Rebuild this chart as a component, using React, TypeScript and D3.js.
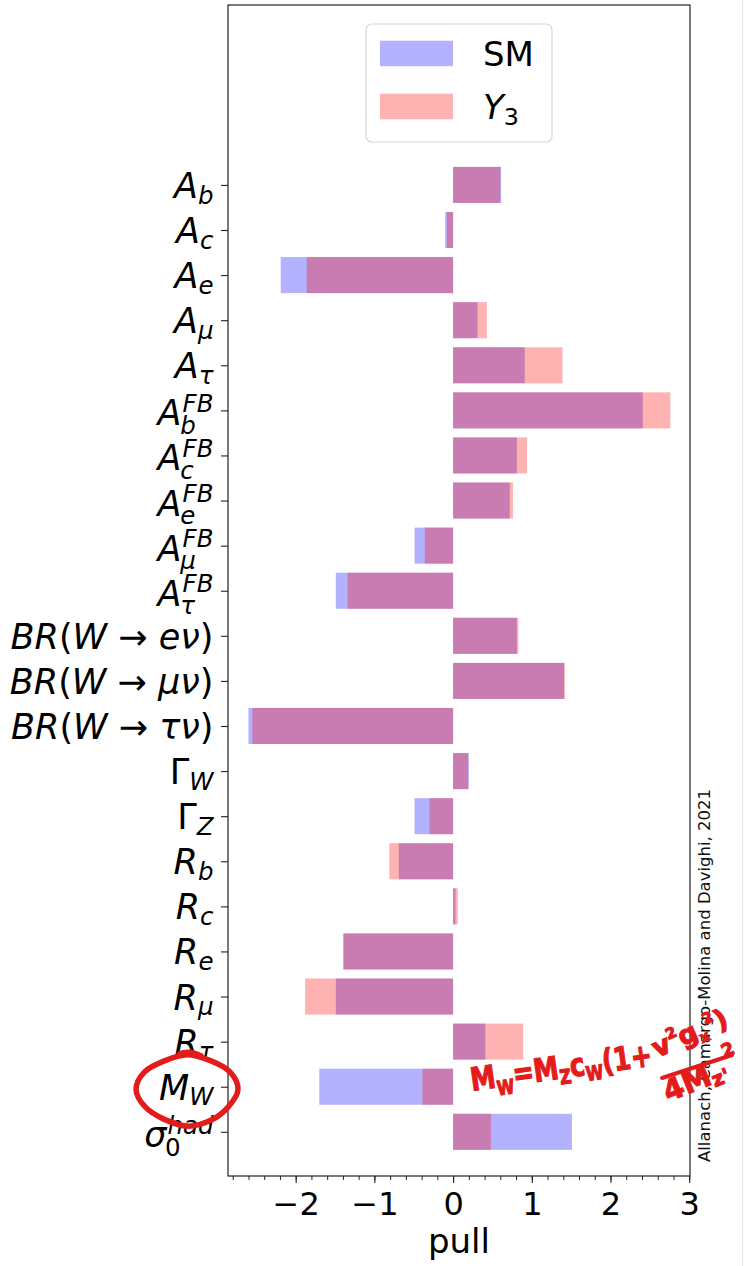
import React, { useEffect, useRef } from "react";
import * as d3 from "d3";

const W = 746;
const H = 1266;

// Electroweak observables, listed top to bottom
const observables = [
  "Ab", "Ac", "Ae", "Amu", "Atau",
  "AFBb", "AFBc", "AFBe", "AFBmu", "AFBtau",
  "BRe", "BRmu", "BRtau", "GammaW", "GammaZ",
  "Rb", "Rc", "Re", "Rmu", "Rtau", "MW", "sigma0had",
];

// Pulls in the Standard Model
const pullSM = [
  0.61, -0.10, -2.19, 0.31, 0.91,
  2.41, 0.81, 0.72, -0.49, -1.49,
  0.81, 1.41, -2.60, 0.20, -0.49,
  -0.69, 0.03, -1.39, -1.49, 0.41, -1.70, 1.51,
];

// Pulls in the Y3 model
const pullY3 = [
  0.60, -0.08, -1.86, 0.43, 1.39,
  2.76, 0.94, 0.76, -0.36, -1.34,
  0.83, 1.42, -2.55, 0.19, -0.30,
  -0.81, 0.06, -1.40, -1.88, 0.89, -0.39, 0.48,
];

const xMajorTicks = [-2, -1, 0, 1, 2, 3];
const seriesNames = ["SM", "Y3"];
const credit = "Allanach, Camargo-Molina and Davighi, 2021";

type Seg = { t: string; it?: boolean };
type MathLabel = { base: Seg[]; sub?: Seg[]; sup?: Seg[] };

const I = (t: string): Seg => ({ t, it: true });
const U = (t: string): Seg => ({ t, it: false });

const tickLabels: MathLabel[] = [
  { base: [I("A")], sub: [I("b")] },
  { base: [I("A")], sub: [I("c")] },
  { base: [I("A")], sub: [I("e")] },
  { base: [I("A")], sub: [I("μ")] },
  { base: [I("A")], sub: [I("τ")] },
  { base: [I("A")], sup: [I("FB")], sub: [I("b")] },
  { base: [I("A")], sup: [I("FB")], sub: [I("c")] },
  { base: [I("A")], sup: [I("FB")], sub: [I("e")] },
  { base: [I("A")], sup: [I("FB")], sub: [I("μ")] },
  { base: [I("A")], sup: [I("FB")], sub: [I("τ")] },
  { base: [I("BR"), U("("), I("W"), U(" → "), I("eν"), U(")")] },
  { base: [I("BR"), U("("), I("W"), U(" → "), I("μν"), U(")")] },
  { base: [I("BR"), U("("), I("W"), U(" → "), I("τν"), U(")")] },
  { base: [U("Γ")], sub: [I("W")] },
  { base: [U("Γ")], sub: [I("Z")] },
  { base: [I("R")], sub: [I("b")] },
  { base: [I("R")], sub: [I("c")] },
  { base: [I("R")], sub: [I("e")] },
  { base: [I("R")], sub: [I("μ")] },
  { base: [I("R")], sub: [I("τ")] },
  { base: [I("M")], sub: [I("W")] },
  { base: [I("σ")], sup: [I("had")], sub: [U("0")] },
];

const legendLabels: MathLabel[] = [
  { base: [U("SM")] },
  { base: [I("Y")], sub: [U("3")] },
];

type G = d3.Selection<SVGGElement, unknown, null, undefined>;

// Draws a mathtext-like label (base, stacked super/subscript) at the group origin; returns its width
function drawMath(g: G, lab: MathLabel, size: number): number {
  const addSegs = (t: d3.Selection<SVGTextElement, unknown, null, undefined>, segs: Seg[]) =>
    segs.forEach((s) =>
      t.append("tspan").attr("font-style", s.it ? "italic" : "normal").text(s.t)
    );
  const base = g.append("text").attr("x", 0).attr("y", 0).attr("font-size", size);
  addSegs(base, lab.base);
  const w = (base.node() as SVGTextElement).getComputedTextLength();
  const small = size * 0.7;
  let extra = 0;
  if (lab.sup) {
    const t = g.append("text").attr("x", w + size * 0.03).attr("y", -size * 0.38).attr("font-size", small);
    addSegs(t, lab.sup);
    extra = Math.max(extra, (t.node() as SVGTextElement).getComputedTextLength() + size * 0.03);
  }
  if (lab.sub) {
    const dx = lab.sup ? -size * 0.04 : 0;
    const t = g.append("text").attr("x", w + dx).attr("y", lab.sup ? size * 0.25 : size * 0.16).attr("font-size", small);
    addSegs(t, lab.sub);
    extra = Math.max(extra, (t.node() as SVGTextElement).getComputedTextLength() + dx);
  }
  return w + extra;
}

export default function App() {
  const ref = useRef<SVGSVGElement>(null);

  useEffect(() => {
    const svg = d3.select(ref.current as SVGSVGElement);
    svg.selectAll("*").remove();

    const plot = { left: 228, right: 690, top: 5, bottom: 1176 };
    const x = d3.scaleLinear().domain([-2.86, 3.01]).range([plot.left, plot.right]);
    const y = d3.scaleLinear().domain([-3.99, 21.98]).range([plot.top, plot.bottom]);
    const barH = y(0.4) - y(-0.4);
    const font = "DejaVu Sans, Verdana, sans-serif";

    svg.append("rect").attr("width", W).attr("height", H).attr("fill", "#fff");

    // faint figure edge on the right
    svg.append("line").attr("x1", 742.5).attr("x2", 742.5).attr("y1", 0).attr("y2", H)
      .attr("stroke", "#e6e6e6").attr("stroke-width", 1);

    // bars: SM underneath, Y3 blended on top
    const series = [
      { vals: pullSM, color: "#0000ff" },
      { vals: pullY3, color: "#ff0000" },
    ];
    series.forEach((s) => {
      svg.append("g").selectAll("rect").data(s.vals).join("rect")
        .attr("x", (d) => x(Math.min(0, d)))
        .attr("width", (d) => Math.abs(x(d) - x(0)))
        .attr("y", (_, i) => y(i) - barH / 2)
        .attr("height", barH)
        .attr("fill", s.color)
        .attr("fill-opacity", 0.3);
    });

    // spines
    svg.append("rect")
      .attr("x", plot.left).attr("y", plot.top)
      .attr("width", plot.right - plot.left).attr("height", plot.bottom - plot.top)
      .attr("fill", "none").attr("stroke", "#222").attr("stroke-width", 1.2);

    // x axis: major and minor ticks
    const xMinor = svg.append("g").attr("transform", `translate(0,${plot.bottom})`)
      .call(d3.axisBottom(x).tickValues(d3.range(-14, 16).map((i) => i / 5)).tickSize(4).tickFormat(() => ""));
    xMinor.select(".domain").remove();
    xMinor.selectAll("line").attr("stroke", "#222").attr("stroke-width", 1);

    const xAxis = svg.append("g").attr("transform", `translate(0,${plot.bottom})`)
      .call(
        d3.axisBottom(x).tickValues(xMajorTicks).tickSize(7).tickPadding(8)
          .tickFormat((d) => (+d < 0 ? "\u2212" + Math.abs(+d) : String(d)))
      );
    xAxis.select(".domain").remove();
    xAxis.selectAll("line").attr("stroke", "#222").attr("stroke-width", 1.1);
    xAxis.selectAll("text").attr("font-family", font).attr("font-size", 32).attr("fill", "#000")
      .attr("dy", "0.76em");

    svg.append("text").attr("x", (plot.left + plot.right) / 2).attr("y", 1253)
      .attr("text-anchor", "middle").attr("font-family", font).attr("font-size", 34)
      .text("pull");

    // y axis ticks
    const yAxis = svg.append("g").attr("transform", `translate(${plot.left},0)`)
      .call(d3.axisLeft(y).tickValues(d3.range(observables.length)).tickSize(7).tickFormat(() => ""));
    yAxis.select(".domain").remove();
    yAxis.selectAll("line").attr("stroke", "#222").attr("stroke-width", 1.1);

    // y tick labels
    const labG = svg.append("g").attr("font-family", font).attr("fill", "#000");
    const labelRight = 213.5;
    const labelNodes: { g: G; w: number; i: number }[] = [];
    tickLabels.forEach((lab, i) => {
      const g = labG.append("g") as unknown as G;
      const w = drawMath(g, lab, 35);
      const off = lab.sup ? 15 : 13;
      g.attr("transform", `translate(${labelRight - w},${y(i) + off})`);
      labelNodes.push({ g, w, i });
    });

    // legend
    const leg = svg.append("g");
    leg.append("rect").attr("x", 366).attr("y", 24).attr("width", 186).attr("height", 118)
      .attr("rx", 6).attr("fill", "#fff").attr("fill-opacity", 0.8)
      .attr("stroke", "#d6d6d6").attr("stroke-width", 1.2);
    seriesNames.forEach((name, k) => {
      const top = 40.7 + k * 53;
      leg.append("rect").attr("x", 380).attr("y", top).attr("width", 73).attr("height", 25.5)
        .attr("fill", series[k].color).attr("fill-opacity", 0.3);
      const g = leg.append("g").attr("font-family", font).attr("transform", `translate(483,${top + 25.5})`) as unknown as G;
      drawMath(g, legendLabels[k], 34);
    });

    // credit line
    svg.append("text")
      .attr("transform", "translate(709.5,1162) rotate(-90)")
      .attr("font-family", font).attr("font-size", 16.5).attr("fill", "#111")
      .text(credit);

    // hand-drawn annotation in red
    const red = "#e41b1b";
    const mw = labelNodes[observables.indexOf("MW")];
    const cx = labelRight - mw.w / 2 + 1;
    const cy = y(mw.i) + 3;
    const wobble = [1.0, 0.96, 1.02, 1.05, 0.98, 1.0, 1.04, 0.97, 1.0, 1.06, 1.02, 0.95];
    const loop = d3.lineRadial<number>()
      .angle((_, k) => (k / wobble.length) * 2 * Math.PI)
      .radius((d) => d)
      .curve(d3.curveCardinalClosed);
    svg.append("path")
      .attr("transform", `translate(${cx},${cy}) scale(1.38,1)`)
      .attr("d", loop(wobble.map((r) => r * 35)))
      .attr("fill", "none").attr("stroke", red).attr("stroke-width", 5.5)
      .attr("vector-effect", "non-scaling-stroke");
    svg.append("path")
      .attr("d", `M${cx - 8},${cy - 36} q 10,-4 22,2`)
      .attr("fill", "none").attr("stroke", red).attr("stroke-width", 5).attr("stroke-linecap", "round");

    const fg = svg.append("g").attr("fill", red).attr("stroke", red).attr("stroke-width", 1.2)
      .attr("font-family", font).attr("font-weight", "bold");
    const p1 = fg.append("text").attr("transform", "translate(472,1091) rotate(-8)").attr("font-size", 32)
      .attr("textLength", 183).attr("lengthAdjust", "spacingAndGlyphs");
    p1.append("tspan").text("M");
    p1.append("tspan").attr("font-size", 20).attr("dy", 8).text("W");
    p1.append("tspan").attr("dy", -8).text("=M");
    p1.append("tspan").attr("font-size", 20).attr("dy", 6).text("Z");
    p1.append("tspan").attr("dy", -6).text("c");
    p1.append("tspan").attr("font-size", 20).attr("dy", 6).text("W");
    p1.append("tspan").attr("dy", -6).text("(1+");

    const num = fg.append("text").attr("transform", "translate(657,1058) rotate(-24)").attr("font-size", 27);
    num.append("tspan").text("v");
    num.append("tspan").attr("font-size", 15).attr("dy", -12).text("2");
    num.append("tspan").attr("dy", 12).text("g");
    num.append("tspan").attr("font-size", 15).attr("dy", 5).text("x");
    num.append("tspan").attr("font-size", 15).attr("dy", -16).text("2");
    num.append("tspan").attr("dy", 11).text(")");

    fg.append("line").attr("x1", 662).attr("y1", 1078).attr("x2", 732).attr("y2", 1055)
      .attr("stroke-width", 4).attr("stroke-linecap", "round");

    const den = fg.append("text").attr("transform", "translate(668,1102) rotate(-22)").attr("font-size", 29);
    den.append("tspan").text("4M");
    den.append("tspan").attr("font-size", 20).attr("dy", 4).text("z'");
    den.append("tspan").attr("font-size", 18).attr("dy", -24).attr("dx", 2).text("2");
  }, []);

  return (
    <svg
      ref={ref}
      width={W}
      height={H}
      style={{ position: "absolute", left: 0, top: 0, background: "#fff" }}
    />
  );
}
